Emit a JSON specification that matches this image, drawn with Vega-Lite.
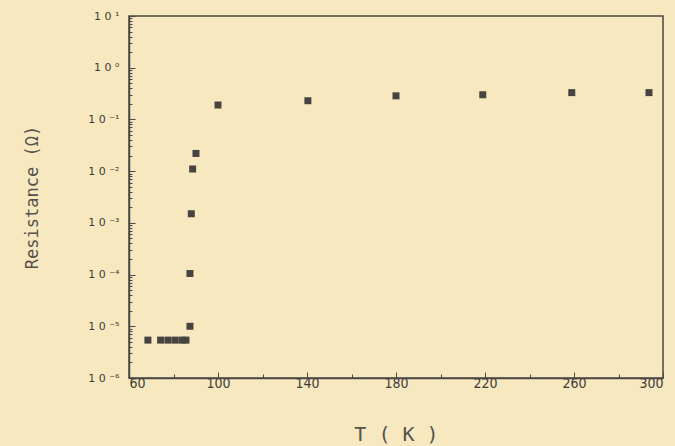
{
  "$schema": "https://vega.github.io/schema/vega-lite/v6.json",
  "width": 534,
  "height": 362,
  "autosize": "none",
  "padding": {"left": 129, "top": 16, "right": 12, "bottom": 68},
  "background": "#f7e8bf",
  "config": {
    "view": {"stroke": "#4a4744", "strokeWidth": 1.5},
    "axis": {"domainColor": "#4a4744", "tickColor": "#4a4744", "labelColor": "#3f3c38", "titleColor": "#55524d", "grid": false, "labelFont": "DejaVu Sans Condensed", "titleFont": "DejaVu Sans Mono", "titleFontWeight": "normal"}
  },
  "data": {"values": [
    {"T": 68.5, "R": 5.4e-6},
    {"T": 74.2, "R": 5.4e-6},
    {"T": 77.5, "R": 5.4e-6},
    {"T": 80.7, "R": 5.4e-6},
    {"T": 83.8, "R": 5.4e-6},
    {"T": 85.6, "R": 5.4e-6},
    {"T": 87.4, "R": 1.0e-5},
    {"T": 87.4, "R": 1.05e-4},
    {"T": 88.0, "R": 1.5e-3},
    {"T": 88.6, "R": 1.1e-2},
    {"T": 90.1, "R": 2.2e-2},
    {"T": 100.0, "R": 0.19},
    {"T": 140.4, "R": 0.23},
    {"T": 180.0, "R": 0.286},
    {"T": 219.0, "R": 0.30},
    {"T": 259.0, "R": 0.33},
    {"T": 293.7, "R": 0.33}
  ]},
  "mark": {"type": "square", "size": 49, "color": "#47433f", "opacity": 1, "filled": true},
  "encoding": {
    "x": {
      "field": "T", "type": "quantitative",
      "scale": {"domain": [60, 300], "nice": false, "zero": false},
      "axis": {
        "title": "T  ( K )", "titleFontSize": 20, "titlePadding": 34,
        "values": [60, 80, 100, 120, 140, 160, 180, 200, 220, 240, 260, 280, 300],
        "labelExpr": "(datum.value - 60) % 40 == 0 ? datum.label : ''",
        "labelFontSize": 14, "labelPadding": 4,
        "tickSize": {"condition": {"test": "(datum.value - 60) % 40 == 0", "value": -6}, "value": -4},
        "domainWidth": 1.5
      }
    },
    "y": {
      "field": "R", "type": "quantitative",
      "scale": {"type": "log", "domain": [1e-6, 10], "nice": false},
      "axis": {
        "title": "Resistance (Ω)", "titleFontSize": 17, "titlePadding": 46,
        "values": [1e-6,2e-6,3e-6,4e-6,5e-6,6e-6,7e-6,8e-6,9e-6,1e-5,2e-5,3e-5,4e-5,5e-5,6e-5,7e-5,8e-5,9e-5,1e-4,2e-4,3e-4,4e-4,5e-4,6e-4,7e-4,8e-4,9e-4,1e-3,2e-3,3e-3,4e-3,5e-3,6e-3,7e-3,8e-3,9e-3,1e-2,2e-2,3e-2,4e-2,5e-2,6e-2,7e-2,8e-2,9e-2,0.1,0.2,0.3,0.4,0.5,0.6,0.7,0.8,0.9,1,2,3,4,5,6,7,8,9,10],
        "labelExpr": "abs(log(datum.value)/LN10 - round(log(datum.value)/LN10)) < 0.001 ? '1 0 ' + ['⁻⁶','⁻⁵','⁻⁴','⁻³','⁻²','⁻¹','⁰','¹'][round(log(datum.value)/LN10) + 6] : ''",
        "labelFontSize": 11, "labelPadding": 16, "labelFont": "DejaVu Sans",
        "tickSize": {"condition": {"test": "abs(log(datum.value)/LN10 - round(log(datum.value)/LN10)) < 0.001", "value": -6}, "value": -3},
        "domainWidth": 1.5
      }
    }
  }
}
